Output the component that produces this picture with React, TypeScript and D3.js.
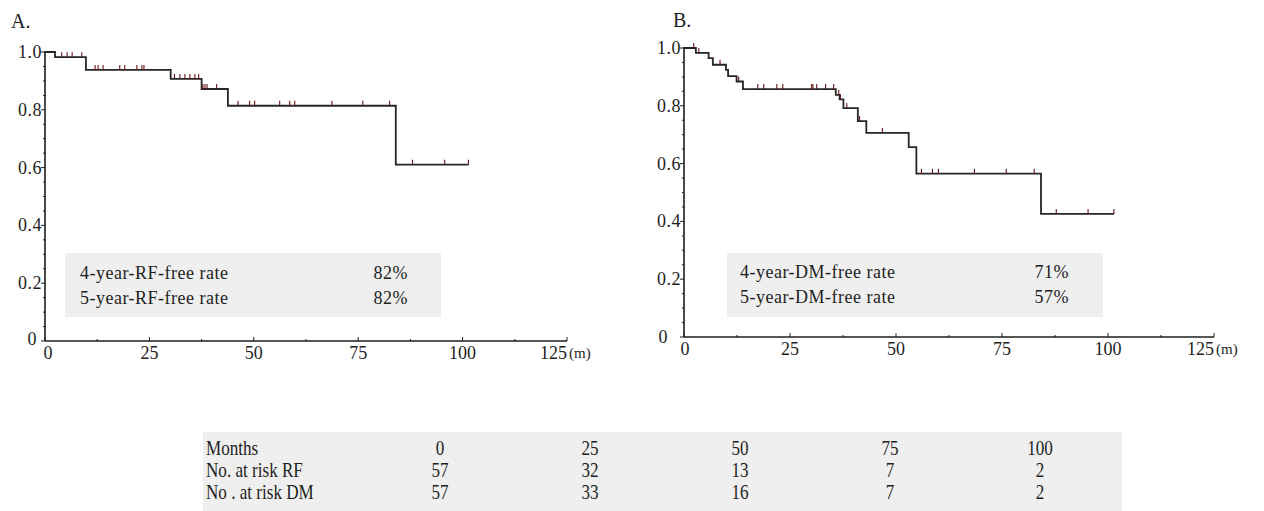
import React from 'react';
import * as d3 from 'd3';

const xTicks = [0, 25, 50, 75, 100, 125];
const xMinor = [12.5, 37.5, 62.5, 87.5, 112.5];
const yTicks = [0, 0.2, 0.4, 0.6, 0.8, 1.0];
const yTickLabels = ['0', '0.2', '0.4', '0.6', '0.8', '1.0'];
const yMinor = [0.05, 0.1, 0.15, 0.25, 0.3, 0.35, 0.45, 0.5, 0.55, 0.65, 0.7, 0.75, 0.85, 0.9, 0.95];

// Panel A: recurrence-free (RF)
const rfTimes = [0, 2.4, 9.8, 30.1, 37.5, 43.8, 84];
const rfSurv = [1, 0.982, 0.938, 0.907, 0.872, 0.814, 0.61];
const rfEnd = 101.4;
const rfCensor = [4, 5.3, 6.5, 8.8, 12, 12.7, 13.9, 17.9, 19.1, 22, 23.2, 23.7, 31, 32.3, 33.5, 34.7, 35.9, 36.8,
  37.8, 38.3, 38.8, 41.1, 46.2, 49, 50.2, 56.2, 58.6, 59.8, 68.7, 76.1, 82.5, 88, 95.7, 101.4];

// Panel B: distant-metastasis-free (DM)
const dmTimes = [0, 2.8, 5.8, 6.8, 9.9, 10.4, 12.4, 13.9, 35.8, 36.7, 37.6, 41, 43, 53, 54.8, 84.2];
const dmSurv = [1, 0.983, 0.965, 0.942, 0.924, 0.903, 0.884, 0.858, 0.838, 0.822, 0.792, 0.747, 0.706, 0.657, 0.565, 0.426];
const dmEnd = 101.4;
const dmCensor = [2.3, 3.5, 8.5, 12.9, 17.4, 18.8, 21.9, 23.3, 30.1, 30.4, 31.3, 33.4, 35.3, 36.5, 36.9, 38.4, 41.4,
  46.8, 56, 58.6, 60, 68.5, 76, 82.6, 87.8, 95.3, 101.4];

const rfSummaryLabels = ['4-year-RF-free rate', '5-year-RF-free rate'];
const rfSummaryValues = ['82%', '82%'];
const dmSummaryLabels = ['4-year-DM-free rate', '5-year-DM-free rate'];
const dmSummaryValues = ['71%', '57%'];

const tableRowLabels = ['Months', 'No. at risk RF', 'No . at risk DM'];
const tableMonths = ['0', '25', '50', '75', '100'];
const atRiskRF = ['57', '32', '13', '7', '2'];
const atRiskDM = ['57', '33', '16', '7', '2'];

const FONT = '"Liberation Serif", "Times New Roman", serif';
const INK = '#1e1e1e';

type PanelProps = {
  letter: string;
  letterX: number;
  letterY: number;
  px0: number; px1: number; py0: number; py1: number;
  times: number[]; surv: number[]; end: number; censor: number[];
  box: { x0: number; x1: number; y0: number; y1: number; tx: number; vx: number; b1: number; b2: number };
  labels: string[]; values: string[];
  yZeroDx: number; yZeroDy: number; xZeroDx: number; xLabDy: number;
};

function survAt(times: number[], surv: number[], t: number) {
  let s = surv[0];
  for (let i = 0; i < times.length; i++) if (times[i] <= t) s = surv[i];
  return s;
}

function Panel(p: PanelProps) {
  const x = d3.scaleLinear().domain([0, 125]).range([p.px0, p.px1]);
  const y = d3.scaleLinear().domain([0, 1]).range([p.py0, p.py1]);
  const pts: [number, number][] = p.times.map((t, i) => [t, p.surv[i]] as [number, number]);
  pts.push([p.end, p.surv[p.surv.length - 1]]);
  const line = d3.line<[number, number]>().x(d => x(d[0])).y(d => y(d[1])).curve(d3.curveStepAfter);
  return (
    <g>
      <text x={p.letterX} y={p.letterY} fontFamily={FONT} fontSize={20} fill={INK}>{p.letter}</text>
      {/* summary box */}
      <rect x={p.box.x0} y={p.box.y0} width={p.box.x1 - p.box.x0} height={p.box.y1 - p.box.y0} fill="#efefef" />
      {p.labels.map((l, i) => (
        <g key={l}>
          <text x={p.box.tx} y={i === 0 ? p.box.b1 : p.box.b2} fontFamily={FONT} fontSize={18} letterSpacing={0.5} fill={INK}>{l}</text>
          <text x={p.box.vx} y={i === 0 ? p.box.b1 : p.box.b2} fontFamily={FONT} fontSize={18} letterSpacing={0.5} textAnchor="end" fill={INK}>{p.values[i]}</text>
        </g>
      ))}
      {/* axes */}
      <line x1={x(0)} x2={x(125)} y1={y(0)} y2={y(0)} stroke={INK} strokeWidth={1.6} />
      <line x1={x(0)} x2={x(0)} y1={y(0)} y2={y(1) - 1} stroke={INK} strokeWidth={1.6} />
      {xTicks.map(t => (
        <line key={'xt' + t} x1={x(t)} x2={x(t)} y1={y(0)} y2={y(0) - 4} stroke={INK} strokeWidth={1} />
      ))}
      {xMinor.map(t => (
        <line key={'xm' + t} x1={x(t)} x2={x(t)} y1={y(0)} y2={y(0) - 2} stroke={INK} strokeWidth={1} />
      ))}
      {xTicks.map(t => (
        <text key={'xl' + t} x={x(t) + (t === 0 ? p.xZeroDx : 0)} y={y(0) + p.xLabDy} fontFamily={FONT} fontSize={18}
          textAnchor={t === 125 ? 'end' : 'middle'} fill={INK}>{String(t)}</text>
      ))}
      <text x={x(125) + 2} y={y(0) + p.xLabDy - 1} fontFamily={FONT} fontSize={15} fill={INK}>(m)</text>
      {yTicks.map(t => (
        <line key={'yt' + t} x1={x(0) - 4} x2={x(0)} y1={y(t)} y2={y(t)} stroke={INK} strokeWidth={1} />
      ))}
      {yMinor.map(t => (
        <line key={'ym' + t} x1={x(0) - 2} x2={x(0)} y1={y(t)} y2={y(t)} stroke={INK} strokeWidth={1} />
      ))}
      {yTicks.map((t, i) => (
        <text key={'yl' + t} x={x(0) - 3 + (t === 0 ? p.yZeroDx : 0)} y={y(t) + 6 + (t === 0 ? p.yZeroDy : 0)}
          fontFamily={FONT} fontSize={18} letterSpacing={0.5} textAnchor="end" fill={INK}>{yTickLabels[i]}</text>
      ))}
      {/* curve */}
      <path d={line(pts) || ''} fill="none" stroke="#262626" strokeWidth={1.8} />
      {p.censor.map((t, i) => {
        const s = survAt(p.times, p.surv, t);
        return <line key={'c' + i} x1={x(t)} x2={x(t)} y1={y(s)} y2={y(s) - 5} stroke="#6a1515" strokeWidth={1.1} />;
      })}
    </g>
  );
}

export default function App() {
  const colX = d3.scalePoint<string>().domain(tableMonths).range([440, 1040]);
  const rowY = d3.scalePoint<string>().domain(tableRowLabels).range([455, 499]);
  const rows = [tableMonths, atRiskRF, atRiskDM];
  return (
    <svg width={1264} height={511} style={{ position: 'absolute', left: 0, top: 0, background: '#fff' }}>
      <rect x={0} y={0} width={1264} height={511} fill="#fff" />
      <Panel letter="A." letterX={11} letterY={28} px0={45} px1={567} py0={341} py1={52}
        times={rfTimes} surv={rfSurv} end={rfEnd} censor={rfCensor}
        box={{ x0: 65, x1: 441, y0: 253, y1: 317, tx: 80, vx: 408, b1: 279, b2: 304 }}
        labels={rfSummaryLabels} values={rfSummaryValues}
        yZeroDx={-5} yZeroDy={-2} xZeroDx={3} xLabDy={18} />
      <Panel letter="B." letterX={673} letterY={27} px0={684} px1={1214} py0={337} py1={48}
        times={dmTimes} surv={dmSurv} end={dmEnd} censor={dmCensor}
        box={{ x0: 727, x1: 1103, y0: 253, y1: 317, tx: 740, vx: 1069, b1: 278, b2: 303 }}
        labels={dmSummaryLabels} values={dmSummaryValues}
        yZeroDx={-13} yZeroDy={0} xZeroDx={1} xLabDy={18} />
      <rect x={203} y={432} width={919} height={79} fill="#efefef" />
      {tableRowLabels.map((r, ri) => (
        <g key={r}>
          <text transform={`translate(206,${rowY(r)}) scale(0.9,1.12)`} fontFamily={FONT} fontSize={19} fill={INK}>{r}</text>
          {rows[ri].map((v, ci) => (
            <text key={ci} transform={`translate(${colX(tableMonths[ci])},${rowY(r)}) scale(0.9,1.12)`}
              fontFamily={FONT} fontSize={19} textAnchor="middle" fill={INK}>{v}</text>
          ))}
        </g>
      ))}
    </svg>
  );
}
